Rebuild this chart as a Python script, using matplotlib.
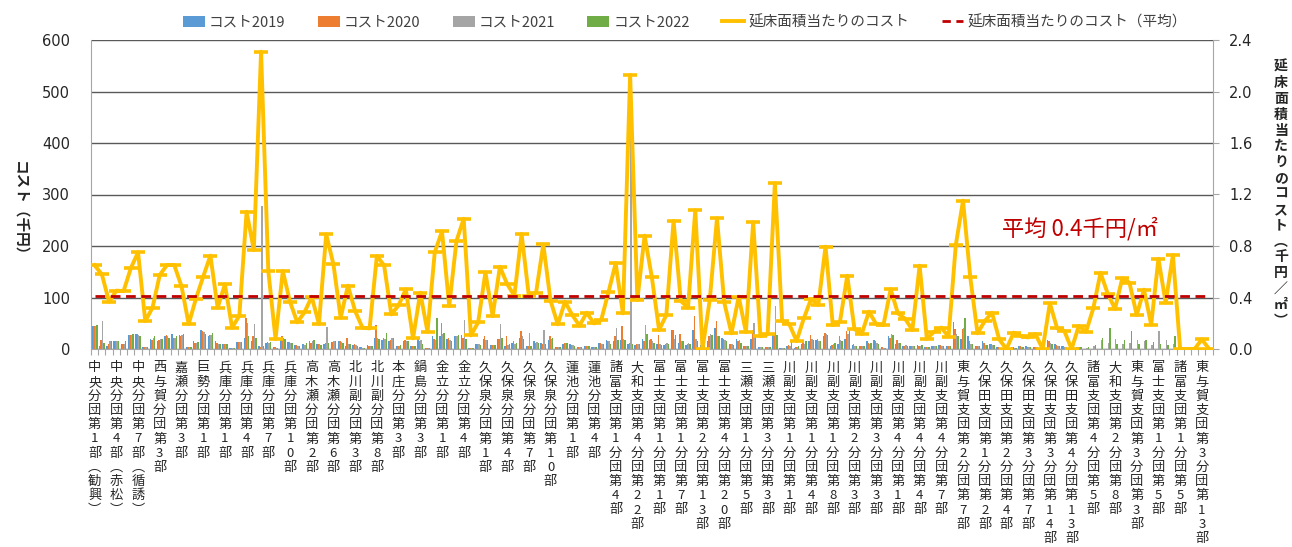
import numpy as np
import matplotlib
matplotlib.use("Agg")
import matplotlib.pyplot as plt
from matplotlib.patches import Patch
from matplotlib.lines import Line2D
from matplotlib.ticker import FixedLocator

plt.rcParams['font.family'] = ['Noto Sans CJK JP', 'DejaVu Sans']

# Tick labels (every third category is labelled on the axis)
tick_labels = [
    "中央分団第1部(勧興)", "中央分団第4部(赤松)", "中央分団第7部(循誘)", "西与賀分団第3部",
    "嘉瀬分団第3部", "巨勢分団第1部", "兵庫分団第1部", "兵庫分団第4部", "兵庫分団第7部",
    "兵庫分団第10部", "高木瀬分団第2部", "高木瀬分団第6部", "北川副分団第3部", "北川副分団第8部",
    "本庄分団第3部", "鍋島分団第3部", "金立分団第1部", "金立分団第4部", "久保泉分団第1部",
    "久保泉分団第4部", "久保泉分団第7部", "久保泉分団第10部", "蓮池分団第1部", "蓮池分団第4部",
    "諸富支団第1分団第4部", "大和支団第4分団第22部", "富士支団第1分団第1部", "富士支団第1分団第7部",
    "富士支団第2分団第13部", "富士支団第4分団第20部", "三瀬支団第1分団第5部", "三瀬支団第3分団第3部",
    "川副支団第1分団第1部", "川副支団第1分団第4部", "川副支団第1分団第8部", "川副支団第2分団第3部",
    "川副支団第3分団第3部", "川副支団第4分団第1部", "川副支団第4分団第4部", "川副支団第4分団第7部",
    "東与賀支団第2分団第7部", "久保田支団第1分団第2部", "久保田支団第2分団第4部", "久保田支団第3分団第7部",
    "久保田支団第3分団第14部", "久保田支団第4分団第13部", "諸富支団第4分団第5部", "大和支団第2分団第8部",
    "東与賀支団第3分団第3部", "富士支団第1分団第5部", "諸富支団第1分団第5部", "東与賀支団第3分団第13部",
]

# cost per floor area (thousand yen / m2)
cost_per_area = [
    0.65, 0.58, 0.367, 0.453, 0.45, 0.627, 0.751, 0.217, 0.321, 0.575,
    0.652, 0.652, 0.489, 0.194, 0.391, 0.562, 0.725, 0.321, 0.502, 0.166,
    0.259, 1.066, 0.769, 2.309, 0.606, 0.078, 0.606, 0.367, 0.207, 0.285,
    0.406, 0.194, 0.891, 0.658, 0.243, 0.492, 0.295, 0.166, 0.16, 0.722,
    0.65, 0.269, 0.339, 0.464, 0.083, 0.437, 0.134, 0.751, 0.914, 0.334,
    0.839, 1.012, 0.106, 0.207, 0.595, 0.256, 0.639, 0.505, 0.414, 0.893,
    0.414, 0.437, 0.813, 0.375, 0.192, 0.367, 0.264, 0.181, 0.282, 0.199,
    0.225, 0.44, 0.666, 0.277, 2.128, 0.381, 0.88, 0.557, 0.148, 0.264,
    0.994, 0.373, 0.321, 1.077, 0.0, 0.381, 1.015, 0.362, 0.122, 0.406,
    0.132, 0.984, 0.101, 0.114, 1.287, 0.217, 0.192, 0.062, 0.238, 0.388,
    0.342, 0.795, 0.186, 0.212, 0.569, 0.155, 0.117, 0.29, 0.194, 0.186,
    0.464, 0.277, 0.235, 0.148, 0.647, 0.08, 0.134, 0.166, 0.096, 0.808,
    1.152, 0.557, 0.122, 0.217, 0.282, 0.075, 0.0, 0.127, 0.1, 0.09,
    0.117, 0.0, 0.355, 0.161, 0.14, 0.0, 0.179, 0.134, 0.316, 0.592,
    0.428, 0.312, 0.549, 0.515, 0.264, 0.461, 0.19, 0.7, 0.36, 0.73,
    0.0, 0.0, 0.0, 0.075, 0.0,
]
avg_cost_per_area = 0.41

# costs (thousand yen)
cost2019 = [
    45, 5, 5, 15, 10, 27, 30, 3, 20, 15, 25, 30, 28, 3, 15, 37, 25, 15, 10, 2,
    13, 22, 15, 5, 12, 3, 20, 13, 7, 10, 15, 10, 10, 13, 15, 5, 8, 3, 7, 21,
    18, 15, 6, 15, 5, 19, 2, 26, 25, 20, 25, 28, 2, 10, 20, 7, 20, 5, 12, 22,
    5, 15, 12, 18, 4, 10, 10, 4, 5, 3, 12, 18, 15, 18, 10, 8, 20, 18, 10, 8,
    37, 12, 8, 37, 8, 15, 41, 22, 10, 20, 5, 20, 4, 3, 30, 2, 5, 2, 10, 15,
    18, 25, 5, 10, 20, 8, 5, 15, 18, 3, 25, 10, 6, 6, 8, 3, 5, 8, 5, 52,
    20, 25, 5, 15, 10, 3, 1, 3, 5, 5, 3, 2, 18, 10, 5, 1, 4, 0, 0, 0,
    0, 0, 0, 0, 0, 0, 0, 0, 0, 0, 0, 0, 0, 0, 0,
]
cost2020 = [
    44, 17, 10, 15, 10, 28, 30, 3, 18, 18, 28, 22, 25, 3, 12, 35, 27, 12, 10, 2,
    13, 60, 25, 3, 13, 3, 25, 13, 7, 10, 12, 10, 12, 13, 15, 22, 10, 3, 5, 47,
    21, 18, 5, 17, 5, 15, 2, 20, 50, 22, 25, 22, 2, 10, 25, 7, 20, 25, 15, 35,
    5, 12, 10, 26, 4, 12, 8, 4, 5, 3, 12, 15, 25, 45, 12, 10, 15, 20, 28, 10,
    37, 30, 10, 65, 8, 25, 54, 20, 10, 15, 5, 37, 4, 3, 28, 2, 8, 3, 15, 28,
    20, 32, 8, 25, 34, 10, 5, 12, 15, 3, 22, 18, 6, 6, 6, 3, 5, 8, 5, 38,
    39, 15, 5, 12, 10, 3, 1, 3, 5, 4, 3, 2, 15, 8, 6, 1, 4, 0, 0, 0,
    0, 0, 0, 0, 0, 0, 0, 0, 0, 0, 0, 0, 0, 0, 0,
]
cost2021 = [
    45, 55, 15, 15, 10, 28, 28, 3, 22, 20, 25, 22, 28, 3, 12, 33, 28, 10, 10, 2,
    13, 50, 48, 278, 12, 2, 22, 12, 6, 8, 15, 10, 42, 15, 13, 10, 8, 2, 5, 21,
    20, 21, 6, 15, 5, 18, 2, 18, 30, 18, 25, 57, 2, 10, 18, 7, 48, 8, 10, 25,
    31, 14, 37, 20, 4, 12, 8, 4, 5, 3, 10, 15, 41, 20, 520, 10, 47, 15, 10, 12,
    20, 15, 12, 20, 6, 30, 25, 18, 10, 18, 5, 50, 4, 3, 84, 2, 5, 3, 10, 20,
    15, 30, 10, 18, 30, 6, 5, 10, 12, 2, 30, 12, 8, 6, 6, 3, 5, 5, 5, 30,
    40, 10, 5, 8, 8, 2, 1, 2, 4, 3, 3, 1, 12, 5, 4, 1, 3, 2, 5, 18,
    12, 19, 10, 12, 18, 15, 8, 34, 18, 10, 0, 0, 0, 0, 0,
]
cost2022 = [
    47, 12, 15, 15, 15, 30, 25, 3, 25, 20, 22, 25, 30, 3, 13, 30, 32, 10, 10, 2,
    13, 25, 22, 5, 13, 2, 20, 12, 6, 12, 18, 8, 12, 15, 12, 10, 5, 2, 5, 20,
    32, 21, 7, 15, 5, 10, 2, 60, 32, 15, 28, 20, 2, 8, 18, 7, 22, 10, 12, 20,
    5, 12, 10, 22, 4, 12, 6, 4, 5, 3, 10, 10, 18, 18, 10, 10, 30, 12, 8, 10,
    28, 15, 10, 15, 5, 28, 26, 15, 8, 12, 5, 25, 4, 3, 28, 2, 15, 5, 15, 18,
    15, 28, 12, 15, 37, 5, 5, 12, 10, 2, 28, 12, 6, 6, 8, 3, 5, 5, 5, 25,
    60, 10, 5, 8, 8, 2, 1, 2, 4, 3, 3, 1, 10, 5, 4, 1, 3, 3, 8, 21,
    41, 10, 18, 34, 10, 18, 13, 10, 8, 26, 0, 0, 0, 0, 0,
]

n = len(cost_per_area)
x = np.arange(n)

colors = ['#5B9BD5', '#ED7D31', '#A5A5A5', '#70AD47']
names = ['コスト2019', 'コスト2020', 'コスト2021', 'コスト2022']
series = [cost2019, cost2020, cost2021, cost2022]

fig = plt.figure(figsize=(12.92, 5.47), dpi=100)
ax = fig.add_axes([91 / 1292, 1 - 349 / 547, (1212.7 - 91) / 1292, 309 / 547])
ax2 = ax.twinx()

w = 0.2
for i, (vals, c) in enumerate(zip(series, colors)):
    ax.bar(x + (i - 1.5) * w, vals, width=w, color=c, zorder=2)

ax.set_xlim(-0.5, n - 0.5)
ax.set_ylim(0, 600)
ax.set_yticks(np.arange(0, 601, 100))
ax.grid(axis='y', color='#595959', linewidth=1.0, zorder=0)
ax.set_axisbelow(True)

# category axis: small ticks at every category boundary, names on every third
ax.xaxis.set_minor_locator(FixedLocator(np.arange(n + 1) - 0.5))
ax.set_xticks(np.arange(0, n, 3))
stacked = []
for s in tick_labels:
    s = s.replace('(', '︵').replace(')', '︶')
    stacked.append("\n".join(list(s)))
ax.set_xticklabels(stacked, fontsize=9.5, linespacing=1.12, va='top', color='#262626')
ax.tick_params(axis='x', which='major', length=0, pad=9)
ax.tick_params(axis='x', which='minor', length=4, color='#A6A6A6', width=0.8)
ax.tick_params(axis='y', length=0, pad=15, labelsize=10.5, labelcolor='#262626')
for lab in ax.get_yticklabels():
    lab.set_fontfamily('DejaVu Sans')

for sp in ['top', 'right']:
    ax.spines[sp].set_visible(False)
ax.spines['left'].set_color('#A6A6A6')
ax.spines['bottom'].set_color('#A6A6A6')

# line on secondary axis
ax2.plot(x, cost_per_area, color='#FFC000', linewidth=2.8, marker='_',
         markersize=10, markeredgewidth=2.6, zorder=3)
ax2.plot(x, [avg_cost_per_area] * n, color='#C00000', linewidth=2.0,
         linestyle=(0, (3.5, 2)), zorder=4)
ax2.set_ylim(0, 2.4)
ax2.set_yticks(np.arange(0, 2.41, 0.4))
ax2.set_yticklabels([f"{v:.1f}" for v in np.arange(0, 2.41, 0.4)])
ax2.tick_params(axis='y', length=4, color='#A6A6A6', pad=8, labelsize=10.5,
                labelcolor='#262626')
for lab in ax2.get_yticklabels():
    lab.set_fontfamily('DejaVu Sans')
for sp in ['top', 'left', 'bottom']:
    ax2.spines[sp].set_visible(False)
ax2.spines['right'].set_color('#A6A6A6')

ax2.text(125.4, 0.935, "平均 0.4千円/㎡", color='#C00000', fontsize=16,
         ha='left', va='center')

# axis titles
fig.text(20 / 1292, 1 - 212 / 547, "コスト（千円）", rotation=270, fontsize=10.5,
         fontweight='bold', ha='center', va='center', color='#262626')
right_title = list("延床面積当たりのコスト") + ['︵', '千', '円', '／', '㎡', '︶']
fig.text(1281 / 1292, 1 - 194 / 547, "\n".join(right_title), fontsize=10,
         fontweight='bold', ha='center', va='center', linespacing=1.17,
         color='#262626')

# legend
handles = [Patch(facecolor=c, edgecolor='none') for c in colors]
handles += [Line2D([], [], color='#FFC000', linewidth=2.8),
            Line2D([], [], color='#C00000', linewidth=2.0, linestyle=(0, (3, 2)))]
labels = names + ['延床面積当たりのコスト', '延床面積当たりのコスト（平均）']
fig.legend(handles, labels, loc='center', bbox_to_anchor=(685 / 1292, 1 - 22 / 547),
           ncol=6, frameon=False, fontsize=10.5, handlelength=1.5, handleheight=0.8,
           handletextpad=0.3, columnspacing=2.2, labelcolor='#404040')

fig.savefig('out.png', dpi=100)
